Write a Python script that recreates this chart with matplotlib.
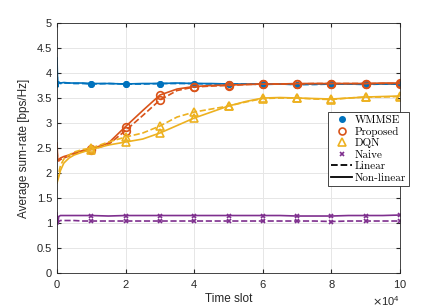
import numpy as np
import matplotlib
matplotlib.use("Agg")
import matplotlib.pyplot as plt
from matplotlib.lines import Line2D

# time slots (x 1e4)
t = [0, 0.02, 0.05, 0.1, 0.2, 0.35, 0.5, 0.75, 1, 1.5, 2, 2.5, 3, 3.5, 4,
     4.5, 5, 5.5, 6, 6.5, 7, 7.5, 8, 8.5, 9, 9.5, 10]

wmmse_nl = [4.3, 3.72, 3.82, 3.80, 3.81, 3.80, 3.80, 3.80, 3.79, 3.79, 3.78, 3.79, 3.79, 3.80,
            3.79, 3.79, 3.78, 3.78, 3.78, 3.78, 3.77, 3.78, 3.78, 3.78, 3.78, 3.78, 3.78]
wmmse_lin = [4.1, 3.75, 3.81, 3.79, 3.80, 3.80, 3.79, 3.79, 3.78, 3.79, 3.78, 3.78, 3.79, 3.79,
             3.79, 3.78, 3.78, 3.78, 3.77, 3.78, 3.77, 3.77, 3.78, 3.78, 3.77, 3.78, 3.78]
prop_nl = [2.6, 2.28, 2.27, 2.30, 2.33, 2.36, 2.40, 2.45, 2.48, 2.60, 2.93, 3.25, 3.56, 3.68,
           3.73, 3.75, 3.76, 3.77, 3.78, 3.78, 3.79, 3.79, 3.79, 3.79, 3.79, 3.80, 3.80]
prop_lin = [2.45, 2.25, 2.24, 2.27, 2.30, 2.34, 2.38, 2.43, 2.47, 2.57, 2.85, 3.15, 3.46, 3.65,
            3.72, 3.74, 3.75, 3.77, 3.78, 3.78, 3.78, 3.79, 3.79, 3.79, 3.79, 3.79, 3.79]
dqn_nl = [1.80, 1.85, 1.92, 2.05, 2.20, 2.30, 2.36, 2.42, 2.47, 2.56, 2.62, 2.68, 2.80, 2.95,
          3.10, 3.22, 3.34, 3.43, 3.50, 3.51, 3.50, 3.49, 3.48, 3.50, 3.52, 3.53, 3.54]
dqn_lin = [1.85, 1.90, 2.00, 2.15, 2.28, 2.36, 2.42, 2.47, 2.50, 2.62, 2.72, 2.80, 2.94, 3.12,
           3.22, 3.28, 3.34, 3.42, 3.49, 3.50, 3.50, 3.48, 3.47, 3.50, 3.52, 3.52, 3.53]
naive_nl = [1.20, 0.98, 1.13, 1.15, 1.15, 1.15, 1.15, 1.15, 1.15, 1.14, 1.15, 1.15, 1.15, 1.15,
            1.15, 1.15, 1.15, 1.15, 1.15, 1.15, 1.14, 1.14, 1.14, 1.15, 1.15, 1.15, 1.16]
naive_lin = [1.10, 0.95, 1.03, 1.05, 1.05, 1.05, 1.05, 1.04, 1.04, 1.04, 1.04, 1.04, 1.04, 1.04,
             1.04, 1.04, 1.04, 1.04, 1.04, 1.04, 1.04, 1.04, 1.03, 1.04, 1.04, 1.04, 1.04]

labels = ["WMMSE", "Proposed", "DQN", "Naive"]
colors = ["#0072BD", "#D95319", "#EDB120", "#7E2F8E"]

plt.rcParams['font.family'] = ['Liberation Sans', 'DejaVu Sans']
plt.rcParams['axes.formatter.use_mathtext'] = True

x = np.array(t) * 1e4
mk = [8, 10, 12, 14, 16, 18, 20, 22, 24, 26]

fig = plt.figure(figsize=(4.43, 3.07), dpi=100)
ax = fig.add_axes([0.1287, 0.1107, 0.7743, 0.8143])

series = [(wmmse_nl, wmmse_lin), (prop_nl, prop_lin), (dqn_nl, dqn_lin), (naive_nl, naive_lin)]
styles = [dict(marker='o', mfc=None, ms=4),
          dict(marker='o', mfc='none', ms=5.5, mew=1.2),
          dict(marker='^', mfc='none', ms=6, mew=1.2),
          dict(marker='x', mfc=None, ms=3.5, mew=1.2)]
for (nl, lin), c, st in zip(series, colors, styles):
    kw = dict(st)
    if kw['mfc'] is None:
        kw['mfc'] = c
    ax.plot(x, lin, '--', color=c, lw=1.2, markevery=mk, mec=c, **kw)
    ax.plot(x, nl, '-', color=c, lw=1.2, markevery=mk, mec=c, **kw)

ax.set_xlim(0, 1e5)
ax.set_ylim(0, 5)
ax.set_xticks(np.arange(0, 1.01e5, 2e4))
ax.set_yticks(np.arange(0, 5.01, 0.5))
ax.set_yticklabels(["0", "0.5", "1", "1.5", "2", "2.5", "3", "3.5", "4", "4.5", "5"])
ax.ticklabel_format(axis='x', style='sci', scilimits=(4, 4))
ax.grid(True, color='#e6e6e6', lw=0.7)
ax.set_axisbelow(True)
ax.tick_params(direction='in', top=True, right=True, labelsize=8, colors='#262626', length=3)
for s in ax.spines.values():
    s.set_color('#262626')
    s.set_linewidth(0.6)
ax.xaxis.get_offset_text().set_fontsize(8)
ax.xaxis.get_offset_text().set_color('#262626')
ax.set_xlabel("Time slot", fontsize=8.5, color='#262626', labelpad=2)
ax.set_ylabel("Average sum-rate [bps/Hz]", fontsize=8.5, color='#262626', labelpad=5)

handles = [Line2D([], [], ls='none', marker='o', color=colors[0], ms=4),
           Line2D([], [], ls='none', marker='o', mfc='none', mec=colors[1], ms=5, mew=1.2),
           Line2D([], [], ls='none', marker='^', mfc='none', mec=colors[2], ms=5.5, mew=1.2),
           Line2D([], [], ls='none', marker='x', color=colors[3], ms=3.5, mew=1.2),
           Line2D([], [], ls='--', color='black', lw=1.3),
           Line2D([], [], ls='-', color='black', lw=1.3)]
leg = ax.legend(handles, labels + ["Linear", "Non-linear"], loc='upper left',
                bbox_to_anchor=(0.79, 0.645), prop={'family': 'cmr10', 'size': 8},
                handlelength=1.9, handletextpad=0.2, borderpad=0.3, labelspacing=0.15,
                fancybox=False, edgecolor='#262626', framealpha=1, borderaxespad=0)
leg.get_frame().set_linewidth(0.6)

fig.savefig("out.png", dpi=100)
